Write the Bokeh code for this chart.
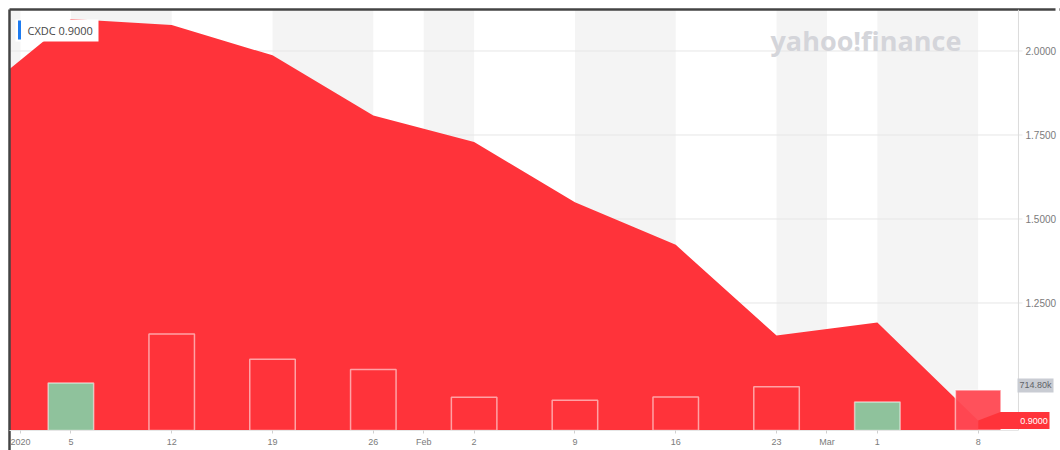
import pandas as pd
from bokeh.plotting import figure
from bokeh.models import (Range1d, FixedTicker, PrintfTickFormatter, BoxAnnotation,
                          Label, PolyAnnotation, ColumnDataSource, LinearAxis, Span)
from bokeh.embed import file_html
from bokeh.resources import INLINE

# ---------------- data ----------------
symbol = "CXDC"
price_dates = ["2019-12-29", "2020-01-05", "2020-01-12", "2020-01-19", "2020-01-26",
               "2020-02-02", "2020-02-09", "2020-02-16", "2020-02-23", "2020-03-01",
               "2020-03-08"]
close = [1.850, 2.095, 2.077, 1.987, 1.808, 1.729, 1.550, 1.423, 1.153, 1.192, 0.900]

vol_dates = price_dates[1:]
volume = [838e3, 1705e3, 1257e3, 1077e3, 586e3, 533e3, 591e3, 771e3, 503e3, 714.8e3]

week_tick_dates = ["2020-01-05", "2020-01-12", "2020-01-19", "2020-01-26", "2020-02-02",
                   "2020-02-09", "2020-02-16", "2020-02-23", "2020-03-01", "2020-03-08"]
week_tick_labels = ["5", "12", "19", "26", "2", "9", "16", "23", "1", "8"]
month_first_week = ["2020-01-05", "2020-02-02", "2020-03-01"]
month_labels = ["2020", "Feb", "Mar"]

price_ticks = [1.25, 1.50, 1.75, 2.00]

# ---------------- helpers ----------------
origin = pd.Timestamp("2020-01-05")
def day(d):
    return (pd.Timestamp(d) - origin).days

px = [day(d) for d in price_dates]
vx = [day(d) for d in vol_dates]

RED = "#ff333a"
GREEN = "#8fc29c"
DARK = "#444444"
PX_PER_DAY = 14.401
FRAME_W, FRAME_H = 1046, 421
X0, X1 = -4.2636, 68.371        # frame spans canvas x 9 .. 1055
X_AXIS = 65.80                  # price axis line position (canvas x 1018)
Y0, Y1 = 0.8705, 2.1235
VOL_MAX = 7.43e6
ppu = FRAME_H / (Y1 - Y0)

p = figure(frame_width=FRAME_W, frame_height=FRAME_H,
           x_range=Range1d(X0, X1), y_range=Range1d(Y0, Y1),
           y_axis_location="right", output_backend="svg", toolbar_location=None,
           min_border_left=9, min_border_top=9, min_border_right=5, min_border_bottom=20,
           background_fill_color="white", border_fill_color="white",
           outline_line_color=None)
p.extra_y_ranges = {"vol": Range1d(0, VOL_MAX)}
p.xgrid.visible = False
p.ygrid.visible = False

# ticks
tick_pos = [day(d) - 3.5 for d in month_first_week] + [day(d) for d in week_tick_dates]
tick_lab = month_labels + week_tick_labels
order = sorted(range(len(tick_pos)), key=lambda i: tick_pos[i])
tick_pos = [float(tick_pos[i]) for i in order]
tick_lab = [tick_lab[i] for i in order]

# alternating vertical bands between consecutive ticks
bounds = [X0] + tick_pos + [X_AXIS]
bl, br = [], []
for i in range(len(bounds) - 1):
    if i % 2 == 0:
        bl.append(bounds[i]); br.append(bounds[i + 1])
p.quad(left=bl, right=br, bottom=Y0, top=Y1, fill_color="#f4f4f4", line_color=None)

# horizontal grid lines (with their short tick beyond the axis line)
p.segment(x0=X0, x1=X_AXIS + 4 / PX_PER_DAY, y0=price_ticks, y1=price_ticks,
          line_color="#e6e6e6", line_width=1)

# price axis line
p.add_layout(Span(location=X_AXIS, dimension="height", line_color="#dcdcdc", line_width=1))

# price area
p.varea(x=px, y1=Y0, y2=close, fill_color=RED)

# volume bars
fills, alphas = [], []
for i, d in enumerate(vol_dates):
    k = price_dates.index(d)
    if i == len(vol_dates) - 1:
        fills.append("#ff4852"); alphas.append(0.95)
    elif close[k] > close[k - 1]:
        fills.append(GREEN); alphas.append(1.0)
    else:
        fills.append(RED); alphas.append(1.0)
src = ColumnDataSource(dict(x=vx, top=volume, fill=fills, alpha=alphas))
p.vbar(x="x", top="top", bottom=0, width=3.16, source=src, y_range_name="vol",
       fill_color="fill", fill_alpha="alpha", line_color="white", line_alpha=0.55,
       line_width=1.5)

# price axis (labels pulled back over the right strip of the frame)
yax = p.yaxis[0]
yax.ticker = FixedTicker(ticks=price_ticks)
yax.formatter = PrintfTickFormatter(format="%.4f")
yax.axis_line_color = None
yax.major_tick_line_color = None
yax.major_tick_out = 0
yax.major_tick_in = 0
yax.minor_tick_line_color = None
yax.major_label_standoff = -30
yax.major_label_text_font = "Liberation Sans"
yax.major_label_text_font_size = "10px"
yax.major_label_text_color = "#7b7b7b"

xax = p.xaxis[0]
xax.ticker = FixedTicker(ticks=tick_pos)
xax.bounds = (X0, X_AXIS)
xax.major_label_overrides = {tick_pos[i]: tick_lab[i] for i in range(len(tick_pos))}
xax.axis_line_color = "#e6e6e6"
xax.major_tick_line_color = "#d0d0d0"
xax.major_tick_out = 3
xax.major_tick_in = 0
xax.minor_tick_line_color = None
xax.major_label_standoff = 3
xax.major_label_text_font = "Liberation Sans"
xax.major_label_text_font_size = "9px"
xax.major_label_text_color = "#7b7b7b"

# watermark
p.add_layout(Label(x=761, y=390, x_units="screen", y_units="screen", text="yahoo!finance",
                   text_font="Open Sans", text_font_style="bold", text_font_size="27px",
                   text_color="#d4d5da", text_baseline="alphabetic"))

# legend box
p.add_layout(BoxAnnotation(left=6, right=89, top=411, bottom=389,
                           left_units="screen", right_units="screen",
                           top_units="screen", bottom_units="screen",
                           fill_color="white", fill_alpha=1, line_alpha=0))
p.add_layout(BoxAnnotation(left=8.5, right=11.5, top=410, bottom=391,
                           left_units="screen", right_units="screen",
                           top_units="screen", bottom_units="screen",
                           fill_color="#1d7bf0", fill_alpha=1, line_alpha=0))
p.add_layout(Label(x=18, y=400, x_units="screen", y_units="screen",
                   text=f"{symbol} {close[-1]:.4f}", text_font="Open Sans",
                   text_font_size="11px", text_color="#464646", text_baseline="middle"))

# last price tag
last = close[-1]
half = 8.5 / ppu
p.add_layout(PolyAnnotation(xs=[968.7, 991, 1040, 1040, 968.7],
                            ys=[last, last + half, last + half, last - half, last - half],
                            xs_units="screen", ys_units="data",
                            fill_color=RED, fill_alpha=1, line_alpha=0))
p.add_layout(Label(x=1024.5, y=last, x_units="screen", y_units="data",
                   text=f"{last:.4f}", text_align="center", text_baseline="middle",
                   text_font="Liberation Sans", text_font_size="9px", text_color="white"))

# last volume tag
vy = volume[-1] / VOL_MAX * FRAME_H + 4.5
p.add_layout(Label(x=1026, y=vy, x_units="screen", y_units="screen",
                   text=f"{volume[-1] / 1000:.2f}k", text_align="center",
                   text_baseline="middle", text_font="Liberation Sans",
                   text_font_size="9px", text_color="#5f6368",
                   background_fill_color="#c9ccd3", background_fill_alpha=1, padding=2))

# dark frame: top line along the frame and left line down to the page bottom
top_ax = LinearAxis(ticker=FixedTicker(ticks=[X0]), major_label_overrides={X0: ""},
                    axis_line_color=DARK, axis_line_width=2.5,
                    major_tick_out=0, major_tick_in=441,
                    major_tick_line_width=2.5, major_tick_line_color=DARK,
                    major_tick_line_cap="butt", minor_tick_line_color=None,
                    major_label_standoff=0, major_label_text_font_size="1px")
p.add_layout(top_ax, "above")

# dark frame: last few pixels of the top line beyond the plot frame
edge_ax = LinearAxis(ticker=FixedTicker(ticks=[Y1]), major_label_overrides={Y1: ""},
                     axis_line_color=None, major_tick_out=6, major_tick_in=0,
                     major_tick_line_width=2.5, major_tick_line_color=DARK,
                     major_tick_line_cap="butt", minor_tick_line_color=None,
                     major_label_standoff=-6, major_label_text_font_size="1px")
p.add_layout(edge_ax, "right")

open("out.html", "w").write(file_html(p, INLINE))
